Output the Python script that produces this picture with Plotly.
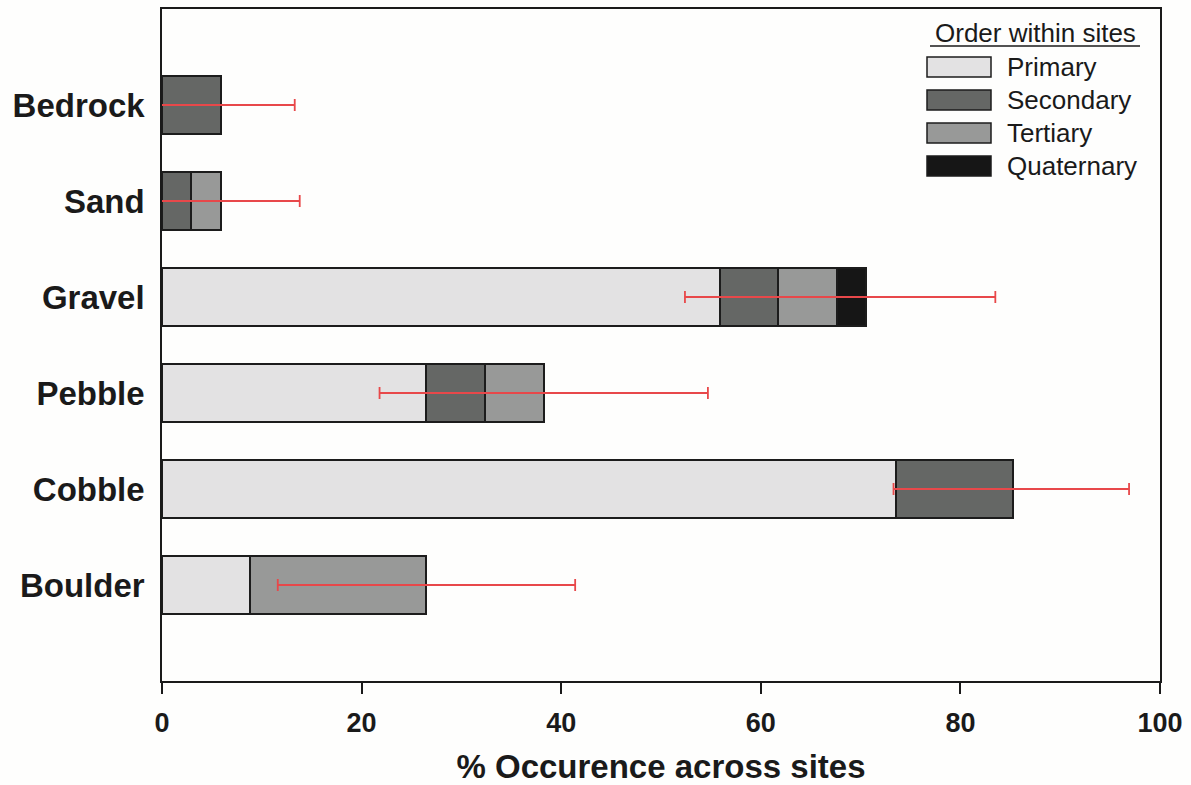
import plotly.graph_objects as go

# Substrate classes, listed top to bottom
substrates = ["Bedrock", "Sand", "Gravel", "Pebble", "Cobble", "Boulder"]
row_pos = [6, 5, 4, 3, 2, 1]

# % occurrence across sites, split by rank of the substrate within a site
primary = [0.0, 0.0, 55.88, 26.47, 73.53, 8.82]
secondary = [5.88, 2.94, 5.88, 5.88, 11.76, 0.0]
tertiary = [0.0, 2.94, 5.88, 5.88, 0.0, 17.65]
quaternary = [0.0, 0.0, 2.94, 0.0, 0.0, 0.0]

# Error bar extents (lower and upper ends)
err_lo = [-1.5, -2.0, 52.4, 21.8, 73.3, 11.6]
err_hi = [13.3, 13.8, 83.5, 54.7, 96.9, 41.4]

x_ticks = [0, 20, 40, 60, 80, 100]

series = [
    ("Primary", primary, "#e3e2e3"),
    ("Secondary", secondary, "#656765"),
    ("Tertiary", tertiary, "#989998"),
    ("Quaternary", quaternary, "#161616"),
]

FONT = "Liberation Sans, Arial"

fig = go.Figure()
for name, vals, col in series:
    fig.add_trace(go.Bar(
        y=row_pos, x=vals, orientation="h", name=name, width=0.6,
        marker=dict(color=col, line=dict(color="#1c1c1c", width=2)),
        showlegend=False,
    ))

centers = [(a + b) / 2 for a, b in zip(err_lo, err_hi)]
halves = [(b - a) / 2 for a, b in zip(err_lo, err_hi)]
fig.add_trace(go.Scatter(
    y=row_pos, x=centers, mode="markers",
    marker=dict(size=1, color="rgba(0,0,0,0)"),
    error_x=dict(type="data", array=halves, symmetric=True,
                 color="#e8484a", thickness=1.8, width=6),
    showlegend=False, hoverinfo="skip",
))

# Legend drawn as a block in the upper right corner
W, H = 998, 672
def px(xp):
    return (xp - 162) / W
def py(yp):
    return 1 - (yp - 9) / H

shapes = []
annotations = [dict(
    x=px(1035), y=py(33), xref="x domain", yref="y domain", text="Order within sites",
    showarrow=False, xanchor="center", yanchor="middle",
    font=dict(size=26, color="#1a1a1a", family=FONT),
)]
shapes.append(dict(type="line", xref="x domain", yref="y domain",
                   x0=px(930), x1=px(1140), y0=py(46), y1=py(46),
                   line=dict(color="#1a1a1a", width=1.5)))
row_y = [67, 100, 133, 166]
for (name, _, col), yy in zip(series, row_y):
    shapes.append(dict(type="rect", xref="x domain", yref="y domain",
                       x0=px(927), x1=px(991), y0=py(yy - 10), y1=py(yy + 10),
                       fillcolor=col, line=dict(color="#1c1c1c", width=1.5)))
    annotations.append(dict(x=px(1005), y=py(yy), xref="x domain", yref="y domain",
                            text=name, showarrow=False, xanchor="left", yanchor="middle",
                            font=dict(size=26, color="#1a1a1a", family=FONT)))

fig.update_layout(
    barmode="stack",
    width=1191, height=785,
    margin=dict(l=162, r=31, t=9, b=104),
    paper_bgcolor="#fefefd", plot_bgcolor="#fefefd",
    shapes=shapes, annotations=annotations,
    font=dict(family=FONT, color="#1a1a1a"),
)
fig.update_xaxes(
    range=[0, 100], tickvals=x_ticks, ticktext=[str(t) for t in x_ticks],
    showline=True, linecolor="#1a1a1a", linewidth=1.5, mirror=True,
    ticks="outside", ticklen=11, tickwidth=1.5, tickcolor="#1a1a1a",
    showgrid=False, zeroline=False, ticklabelstandoff=6, automargin=False,
    tickfont=dict(size=27, family=FONT, weight="bold"),
    title=dict(text="<b>% Occurence across sites</b>", font=dict(size=33), standoff=20),
)
fig.update_yaxes(
    range=[0, 7], tickvals=row_pos, ticktext=[f"<b>{s}</b>" for s in substrates],
    showline=True, linecolor="#1a1a1a", linewidth=1.5, mirror=True,
    ticks="", showgrid=False, zeroline=False, automargin=False,
    tickfont=dict(size=33), ticklabelstandoff=9,
)

fig.write_html("out.html")
